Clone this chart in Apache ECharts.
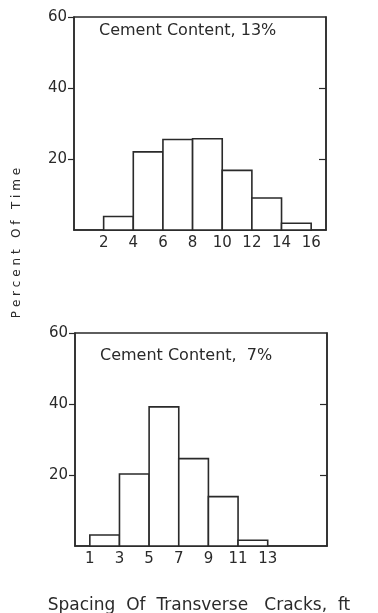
<!DOCTYPE html>
<html>
<head>
<meta charset="utf-8">
<script src="https://cdn.jsdelivr.net/npm/echarts@6/dist/echarts.min.js"></script>
<style>
  html, body { margin: 0; padding: 0; background: #fff; }
  #chart { width: 378px; height: 613px; }
</style>
</head>
<body>
<div id="chart"></div>
<script>
// bin edges (ft) and percent of time for each histogram
const edges13 = [2, 4, 6, 8, 10, 12, 14, 16];
const percent13 = [3.8, 22, 25.5, 25.7, 16.8, 9, 1.9];
const edges7 = [1, 3, 5, 7, 9, 11, 13];
const percent7 = [3.1, 20.3, 39.2, 24.6, 13.9, 1.6];

const xTicks13 = [2, 4, 6, 8, 10, 12, 14, 16];
const xTicks7 = [1, 3, 5, 7, 9, 11, 13];
const yTicks = [20, 40, 60];

const titles = ["Cement Content, 13%", "Cement Content,  7%"];

const ink = "#2a2a2a";
const font = "DejaVu Sans";

function bins(edges, vals) {
  return vals.map((v, i) => [edges[i], edges[i + 1], v]);
}

function xAxisFor(idx, ticks) {
  return {
    type: "value",
    gridIndex: idx,
    min: 0,
    max: 17,
    interval: 1,
    axisLine: { show: true, lineStyle: { color: ink, width: 1.5 } },
    axisTick: { show: false },
    splitLine: { show: false },
    axisLabel: {
      color: ink,
      fontFamily: font,
      fontSize: 15,
      margin: 6,
      showMaxLabel: false,
      formatter: (v) => (ticks.includes(v) ? String(v) : ""),
    },
  };
}

function yAxesFor(idx) {
  const base = {
    type: "value",
    gridIndex: idx,
    min: 0,
    max: 60,
    interval: 20,
    splitLine: { show: false },
    axisLine: { show: true, lineStyle: { color: ink, width: 1.5 } },
  };
  return [
    {
      ...base,
      position: "left",
      axisTick: {
        show: true,
        inside: false,
        length: 6,
        lineStyle: { color: ink, width: 1.2 },
        customValues: yTicks,
      },
      axisLabel: {
        color: ink,
        fontFamily: font,
        fontSize: 15,
        margin: 7,
        formatter: (v) => (yTicks.includes(v) ? String(v) : ""),
      },
    },
    {
      ...base,
      position: "right",
      axisTick: {
        show: true,
        inside: true,
        length: 7,
        lineStyle: { color: ink, width: 1.2 },
        customValues: [20, 40],
      },
      axisLabel: { show: false },
    },
  ];
}

function renderBin(params, api) {
  const a = api.coord([api.value(0), api.value(2)]);
  const b = api.coord([api.value(1), 0]);
  return {
    type: "rect",
    shape: { x: a[0], y: a[1], width: b[0] - a[0], height: b[1] - a[1] },
    style: { fill: "#fff", stroke: ink, lineWidth: 1.6 },
  };
}

const chart = echarts.init(document.getElementById("chart"));

const option = {
  animation: false,
  backgroundColor: "#fff",
  grid: [
    { left: 74, top: 17, width: 252, height: 213, show: true, borderColor: ink, borderWidth: 1.5, backgroundColor: "transparent" },
    { left: 75, top: 333, width: 252, height: 213, show: true, borderColor: ink, borderWidth: 1.5, backgroundColor: "transparent" },
  ],
  xAxis: [xAxisFor(0, xTicks13), xAxisFor(1, xTicks7)],
  yAxis: [...yAxesFor(0), ...yAxesFor(1)],
  series: [
    {
      type: "custom",
      xAxisIndex: 0,
      yAxisIndex: 0,
      renderItem: renderBin,
      encode: { x: [0, 1], y: 2 },
      data: bins(edges13, percent13),
    },
    {
      type: "custom",
      xAxisIndex: 1,
      yAxisIndex: 2,
      renderItem: renderBin,
      encode: { x: [0, 1], y: 2 },
      data: bins(edges7, percent7),
    },
  ],
  graphic: [
    {
      type: "text",
      left: 99,
      top: 23,
      style: { text: titles[0], fill: ink, font: `16px "${font}"` },
    },
    {
      type: "text",
      left: 100,
      top: 348,
      style: { text: titles[1], fill: ink, font: `16px "${font}"` },
    },
    {
      type: "text",
      x: 17,
      y: 243,
      rotation: Math.PI / 2,
      style: {
        text: "P e r c e n t   O f   T i m e",
        fill: ink,
        font: `12px "${font}"`,
        align: "center",
        verticalAlign: "middle",
      },
    },
    {
      type: "text",
      x: 199,
      y: 606,
      style: {
        text: "Spacing  Of  Transverse   Cracks,  ft",
        fill: ink,
        font: `17px "${font}"`,
        align: "center",
        verticalAlign: "middle",
      },
    },
  ],
};

chart.setOption(option);
</script>
</body>
</html>
